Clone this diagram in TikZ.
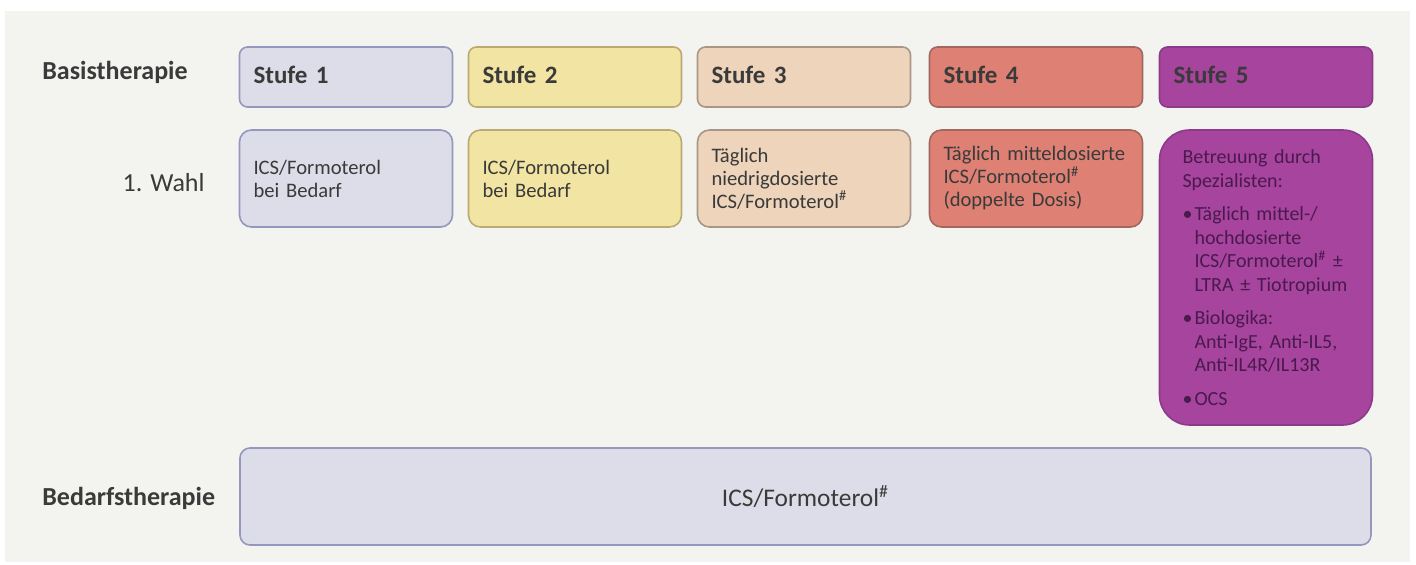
\documentclass[tikz,border=0pt]{standalone}
\usepackage{fontspec}
\setmainfont{Carlito}
\usetikzlibrary{positioning}

\definecolor{bggray}{HTML}{F3F3EF}
\definecolor{txtgray}{HTML}{3A3A3A}
\definecolor{sonefill}{HTML}{DCDDE8}
\definecolor{soneline}{HTML}{9597BC}
\definecolor{stwofill}{HTML}{F2E4A2}
\definecolor{stwoline}{HTML}{BBAA72}
\definecolor{sthreefill}{HTML}{EDD4BA}
\definecolor{sthreeline}{HTML}{A99686}
\definecolor{sfourfill}{HTML}{DE8174}
\definecolor{sfourline}{HTML}{A2675F}
\definecolor{sfivefill}{HTML}{A6449E}
\definecolor{sfiveline}{HTML}{8C3A8A}
\definecolor{sfivetxt}{HTML}{4A1A4E}

\tikzset{
  rowlabel/.style={anchor=west, inner sep=0pt, text=txtgray, font=\fontsize{13}{15}\selectfont\bfseries},
  stufebox/.style={rounded corners=4pt, line width=0.8pt, minimum width=106.5pt, minimum height=30pt,
    text width=92.5pt, inner xsep=7pt, align=left, text=txtgray, font=\fontsize{12.5}{14}\selectfont\bfseries},
  wahlbox/.style={rounded corners=6pt, line width=0.8pt, minimum width=106.5pt, minimum height=48.5pt,
    text width=92.5pt, inner xsep=7pt, align=left, text=txtgray, font=\fontsize{10.3}{11.5}\selectfont},
  sone/.style={fill=sonefill, draw=soneline},
  stwo/.style={fill=stwofill, draw=stwoline},
  sthree/.style={fill=sthreefill, draw=sthreeline},
  sfour/.style={fill=sfourfill, draw=sfourline},
  sfive/.style={fill=sfivefill, draw=sfiveline},
}
\newcommand{\raute}{\textsuperscript{\#}}
\newcommand{\punkt}{\makebox[6pt][l]{\textbullet}}
\newcommand{\hoch}[1]{\raisebox{2.5pt}{#1}}

\begin{document}
\begin{tikzpicture}[x=0.5pt,y=-0.5pt]
    % Background
    \useasboundingbox (0,0) rectangle (1416,565);
    \fill[white] (0,0) rectangle (1416,565);
    \fill[bggray] (5,11) rectangle (1410,562);

    % Row labels
    \node [rowlabel] (basis) at (42,72) {Basistherapie};
    \node [rowlabel, anchor=east, font=\fontsize{13}{15}\selectfont] (wahl) at (205,183) {1. Wahl};
    \node [rowlabel] (bedarf) at (42,498) {Bedarfstherapie};

    % Stufen
    \node [stufebox, sone] (stufe1) at (346,77) {\hoch{Stufe 1}};
    \node [stufebox, stwo, right=7.2pt of stufe1] (stufe2) {\hoch{Stufe 2}};
    \node [stufebox, sthree, right=7.2pt of stufe2] (stufe3) {\hoch{Stufe 3}};
    \node [stufebox, sfour, right=8.7pt of stufe3] (stufe4) {\hoch{Stufe 4}};
    \node [stufebox, sfive, right=7.7pt of stufe4] (stufe5) {\hoch{Stufe 5}};

    % 1. Wahl
    \node [wahlbox, sone, below=10.7pt of stufe1] (wahl1) {ICS/Formoterol\\bei Bedarf};
    \node [wahlbox, stwo, below=10.7pt of stufe2] (wahl2) {ICS/Formoterol\\bei Bedarf};
    \node [wahlbox, sthree, below=10.7pt of stufe3] (wahl3) {Täglich\\niedrigdosierte\\ICS/Formoterol\raute};
    \node [wahlbox, sfour, below=10.7pt of stufe4] (wahl4) {\mbox{Täglich mitteldosierte}\\ICS/Formoterol\raute\\(doppelte Dosis)};
    \node [wahlbox, sfive, below=10.7pt of stufe5, minimum height=147.5pt, rounded corners=15pt,
           text width=83.5pt, inner xsep=11.5pt, text=sfivetxt, font=\fontsize{10}{11.75}\selectfont]
          (wahl5) {Betreuung durch\\Spezialisten:\\[5pt]
          \punkt Täglich mittel-/\\\hspace*{6pt}hochdosierte\\\hspace*{6pt}ICS/Formoterol\raute\ ±\\\hspace*{6pt}LTRA ± Tiotropium\\[5pt]
          \punkt Biologika:\\\hspace*{6pt}Anti-IgE, Anti-IL5,\\\hspace*{6pt}Anti-IL4R/IL13R\\[5pt]
          \punkt OCS};

    % Bedarfstherapie
    \node [wahlbox, sone, rounded corners=5pt, minimum width=565.5pt, text width=540pt, align=center,
           font=\fontsize{12.7}{14}\selectfont] (bedarfbox) at (805.5,496.5) {ICS/Formoterol\raute};
\end{tikzpicture}
\end{document}
